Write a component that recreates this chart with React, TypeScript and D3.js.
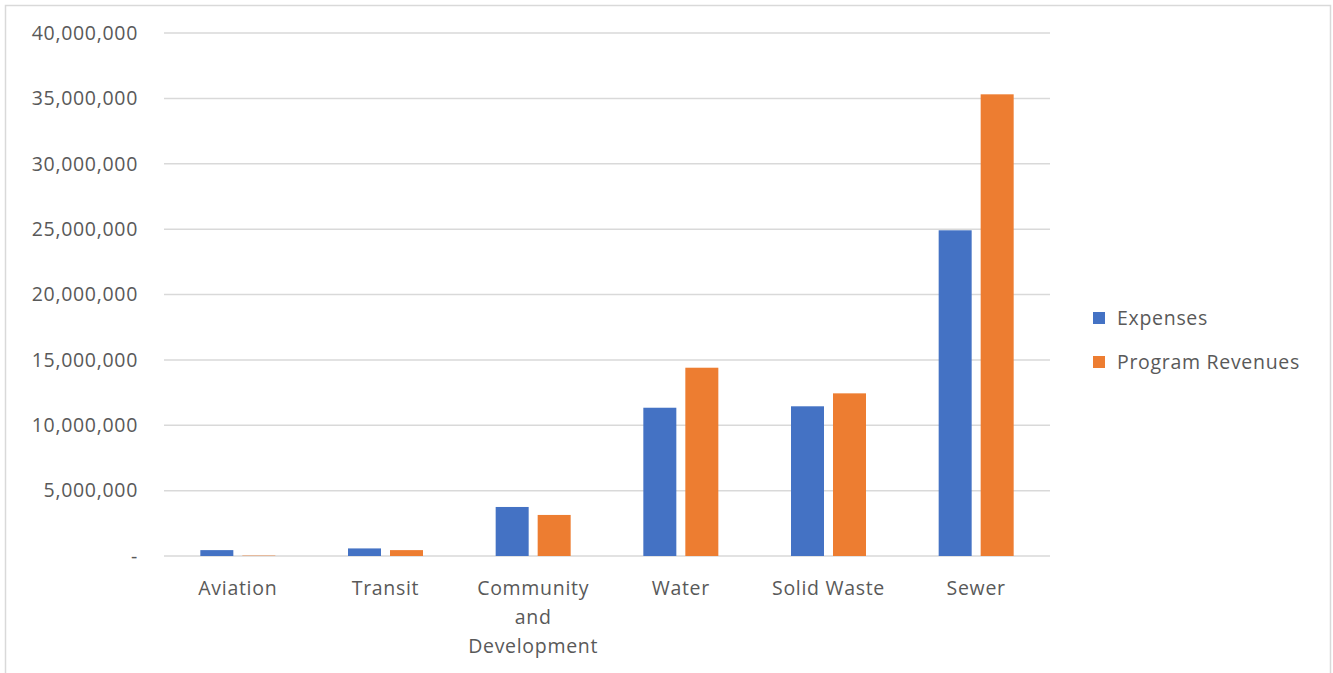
import React from "react";
import * as d3 from "d3";

const categories: string[][] = [
  ["Aviation"],
  ["Transit"],
  ["Community", "and", "Development"],
  ["Water"],
  ["Solid Waste"],
  ["Sewer"],
];
const expenses = [450000, 580000, 3750000, 11340000, 11450000, 24910000];
const programRevenues = [30000, 450000, 3140000, 14400000, 12440000, 35310000];
const seriesNames = ["Expenses", "Program Revenues"];
const seriesColors = ["#4472C4", "#ED7D31"];
const yTicks = [0, 5000000, 10000000, 15000000, 20000000, 25000000, 30000000, 35000000, 40000000];

export default function App() {
  const W = 1333, H = 673;
  const x0 = 164, x1 = 1050, yTop = 33, yBot = 556;
  const keys = categories.map((c) => c.join(" "));
  const x = d3.scaleBand<string>().domain(keys).range([x0, x1]).paddingInner(0).paddingOuter(0);
  const y = d3.scaleLinear().domain([0, 40000000]).range([yBot, yTop]);
  const bw = 33, gap = 9;
  const fmt = d3.format(",");
  const font = "'Open Sans', sans-serif";
  const fs = 19.5;
  const ls = 0.7;
  const series = [expenses, programRevenues];
  return (
    <svg width={W} height={H} style={{ position: "absolute", left: 0, top: 0 }}>
      <rect x={5.5} y={5.5} width={1325} height={700} fill="#fff" stroke="#d9d9d9" strokeWidth={1.5} />
      {yTicks.map((t) => (
        <g key={t}>
          <line x1={x0} x2={x1} y1={y(t)} y2={y(t)} stroke="#d9d9d9" strokeWidth={1.5} />
          <text x={138} y={y(t)} dy="0.35em" textAnchor="end" fontFamily={font} fontSize={fs} letterSpacing={ls} fill="#595959">
            {t === 0 ? "-" : fmt(t)}
          </text>
        </g>
      ))}
      {keys.map((k, i) => {
        const c = (x(k) as number) + x.bandwidth() / 2;
        return (
          <g key={k}>
            {series.map((s, j) => {
              const bx = j === 0 ? c - gap / 2 - bw : c + gap / 2;
              return (
                <rect key={j} x={bx} y={y(s[i])} width={bw} height={yBot - y(s[i])} fill={seriesColors[j]} />
              );
            })}
            {categories[i].map((line, li) => (
              <text key={li} x={c} y={588 + li * 29} dy="0.35em" textAnchor="middle" fontFamily={font} fontSize={fs} letterSpacing={ls} fill="#595959">
                {line}
              </text>
            ))}
          </g>
        );
      })}
      {seriesNames.map((n, j) => (
        <g key={n}>
          <rect x={1093} y={312 + j * 44} width={12} height={12} fill={seriesColors[j]} />
          <text x={1117} y={318 + j * 44} dy="0.35em" fontFamily={font} fontSize={fs} letterSpacing={ls} fill="#595959">
            {n}
          </text>
        </g>
      ))}
    </svg>
  );
}
